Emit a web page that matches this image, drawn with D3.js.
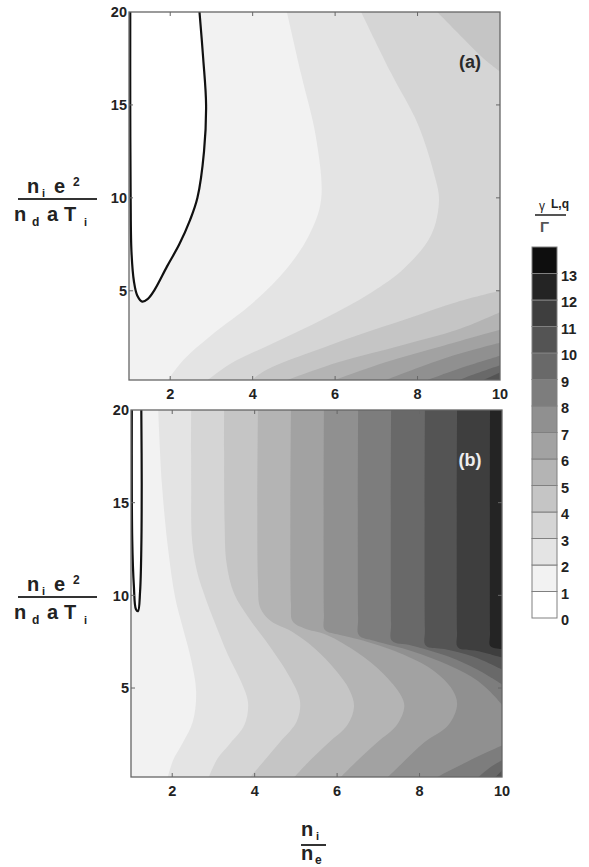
<!DOCTYPE html>
<html>
<head>
<meta charset="utf-8">
<script src="https://cdn.jsdelivr.net/npm/d3@7"></script>
<style>
  body { margin: 0; background: #fff; }
  text { font-family: "Liberation Sans", Arial, sans-serif; font-weight: bold; fill: #222; }
</style>
</head>
<body>
<svg id="chart" width="589" height="867"></svg>
<script>
// ---- values ----
var xTicks = [2, 4, 6, 8, 10]
var yTicks = [5, 10, 15, 20]
var levels = d3.range(0, 14)
// grey of each contour level 0..13 (white -> black)
var grays = [255, 242, 228, 213, 197, 180, 162, 144, 125, 105, 84, 62, 36, 14]

// Boundary pieces [x, y], each listed so that the higher level lies on its left.
// panel (a)
var loopA = [[2.71,20],[2.8,17.5],[2.87,15],[2.82,12.5],[2.66,10.0],[2.48,8.8],[2.22,7.5],[1.92,6.3],[1.62,5.05],[1.45,4.55],[1.32,4.42],[1.2,4.75],[1.12,5.5],[1.06,7.1],[1.04,10],[1.03,15],[1.03,20]]
var a1 = [[4.83,20],[5.17,16.7],[5.54,13.2],[5.66,9.9],[5.37,8.0],[4.83,6.2],[4.03,4.4],[2.99,2.6],[2.33,1.3],[1.88,0]]
var a2 = [[6.63,20],[7.36,16.7],[8.0,14.0],[8.4,11.3],[8.52,9.9],[8.33,8.0],[7.67,6.2],[6.87,4.9],[5.73,3.5],[4.52,2.2],[3.48,1.1],[2.8,0]]
var a3top = [[8.48,20],[9.1,18.6],[9.6,17.5],[10,16.8]]
var a3bot = [[10,5.0],[8.96,4.4],[7.75,3.5],[6.53,2.6],[5.42,1.7],[4.35,0.76],[3.86,0]]
var a4 = [[10,3.85],[8.96,2.9],[7.6,2.06],[6.05,1.14],[4.6,0]]
var a5 = [[10,2.9],[8.65,2.06],[7.2,1.14],[5.75,0]]
var a6 = [[10,2.2],[8.7,1.4],[7.0,0]]
var a7 = [[10,1.5],[9.0,0.8],[8.0,0]]
var a8 = [[10,1.0],[9.3,0.45],[8.8,0]]
var a9 = [[10,0.6],[9.4,0]]

// panel (b)
var loopB = [[1.25,20],[1.26,16],[1.25,12.5],[1.22,10.2],[1.17,9.15],[1.12,9.25],[1.07,10.5],[1.03,13],[1.02,20]]
var b1 = [[1.66,20],[1.75,16],[1.9,12.5],[2.07,9.9],[2.25,8.3],[2.45,6.6],[2.58,4.8],[2.5,3.2],[2.26,2.06],[2.02,1.1],[1.87,0]]
var b2 = [[2.46,20],[2.46,16],[2.48,13],[2.6,11.3],[2.8,9.9],[3.02,8.6],[3.35,6.8],[3.68,5.3],[3.84,4.2],[3.75,3.0],[3.4,2.0],[3.1,1.2],[2.85,0]]
var b3 = [[3.26,20],[3.27,14],[3.32,11.7],[3.5,10.1],[3.85,8.8],[4.35,7.3],[4.85,5.6],[5.1,4.3],[5.02,3.2],[4.62,2.1],[4.2,1.0],[3.82,0]]
var b4 = [[4.08,20],[4.08,10.8],[4.14,9.3],[4.4,8.6],[4.9,8.05],[5.45,7.15],[5.95,6.0],[6.3,4.9],[6.41,4.0],[6.25,3.0],[5.8,2.06],[5.3,1.0],[4.88,0]]
var b5 = [[4.88,20],[4.88,9.6],[4.92,8.6],[5.2,8.22],[5.75,7.86],[6.5,6.9],[7.11,5.8],[7.55,4.6],[7.63,4.0],[7.45,3.0],[6.97,2.06],[6.45,1.0],[6.0,0]]
var b6 = [[5.68,20],[5.68,9.0],[5.7,8.15],[6.0,7.9],[6.56,7.6],[7.5,6.9],[8.3,6.0],[8.8,4.9],[8.91,4.1],[8.7,3.0],[8.11,2.06],[7.6,1.0],[7.14,0]]
var b7 = [[6.51,20],[6.51,8.8],[6.53,7.85],[6.9,7.55],[7.8,7.0],[8.74,6.2],[9.4,5.4],[9.8,4.6],[10,4.1]]
var b8 = [[7.31,20],[7.31,8.5],[7.33,7.55],[7.8,7.3],[8.7,6.7],[9.4,6.0],[10,5.2]]
var b9 = [[8.13,20],[8.13,8.2],[8.15,7.3],[8.6,7.1],[9.3,6.7],[10,6.0]]
var b10 = [[8.91,20],[8.91,8.0],[8.93,7.2],[9.4,7.0],[10,6.65]]
var b11 = [[9.71,20],[9.71,8.0],[9.72,7.25],[10,7.1]]
var b7low = [[10,1.9],[9.5,1.4],[9.0,0.85],[8.6,0.4],[8.28,0]]
var b8low = [[10,1.1],[9.7,0.7],[9.33,0]]
var b9low = [[10,0.55],[9.75,0]]

// level painted beyond each piece
var piecesA = [[loopA,1],[a1,2],[a2,3],[a3top,4],[a3bot,4],[a4,5],[a5,6],[a6,7],[a7,8],[a8,9],[a9,10]]
var piecesB = [[loopB,1],[b1,2],[b2,3],[b3,4],[b4,5],[b5,6],[b6,7],[b7,8],[b7low,8],[b8,9],[b8low,9],[b9,10],[b9low,10],[b10,11],[b11,12]]

var svg = d3.select("#chart")
var grey = function(k) { return d3.rgb(grays[k], grays[k], grays[k]).toString() }

var panels = [
    { id: "a", left: 129, right: 500, top: 12, bottom: 380, pieces: piecesA, loop: loopA, tag: "(a)", tagFill: "#2a2a2a" },
    { id: "b", left: 131, right: 502, top: 410, bottom: 777, pieces: piecesB, loop: loopB, tag: "(b)", tagFill: "#eeeeee" }
]

// frame used to close the boundary pieces into polygons (counter-clockwise)
var corners = [[1,0],[10,0],[10,20],[1,20]]
function edgeT(p) {
    var d = [Math.abs(p[1] - 0), Math.abs(p[0] - 10), Math.abs(p[1] - 20), Math.abs(p[0] - 1)]
    var m = d3.minIndex(d)
    if (m === 0) return (p[0] - 1) / 9
    if (m === 1) return 1 + p[1] / 20
    if (m === 2) return 2 + (10 - p[0]) / 9
    return 3 + (20 - p[1]) / 20
}

panels.forEach(function(P) {
    var x = d3.scaleLinear().domain([1, 10]).range([P.left, P.right])
    var y = d3.scaleLinear().domain([0.2, 20]).range([P.bottom, P.top])
    var line = d3.line().x(d => x(d[0])).y(d => y(d[1])).curve(d3.curveCatmullRom.alpha(0.5))

    svg.append("clipPath").attr("id", "clip-" + P.id)
        .append("rect")
        .attr("x", P.left).attr("y", P.top)
        .attr("width", P.right - P.left).attr("height", P.bottom - P.top)

    var g = svg.append("g").attr("clip-path", "url(#clip-" + P.id + ")")

    g.append("rect")
        .attr("x", P.left).attr("y", P.top)
        .attr("width", P.right - P.left).attr("height", P.bottom - P.top)
        .attr("fill", grey(0))

    g.selectAll("path.band")
        .data(P.pieces)
        .enter()
        .append("path")
        .attr("class", "band")
        .attr("fill", d => grey(d[1]))
        .attr("d", function(d) {
            var pts = d[0]
            var te = edgeT(pts[pts.length - 1]), ts = edgeT(pts[0])
            var end = ts <= te ? ts + 4 : ts
            var s = line(pts)
            for (var c = Math.floor(te) + 1; c < end; c++) {
                var k = corners[c % 4]
                s += "L" + x(k[0]) + "," + y(k[1])
            }
            return s + "Z"
        })

    // the thick zero contour
    g.append("path")
        .attr("d", line(P.loop))
        .attr("fill", "none")
        .attr("stroke", "#111")
        .attr("stroke-width", 2.2)

    // frame + inward ticks on all four sides
    svg.append("rect")
        .attr("x", P.left).attr("y", P.top)
        .attr("width", P.right - P.left).attr("height", P.bottom - P.top)
        .attr("fill", "none").attr("stroke", "#666").attr("stroke-width", 1.3)

    var tk = svg.append("g").attr("stroke", "#666").attr("stroke-width", 1)
    xTicks.filter(v => v < 10).forEach(function(v) {
        tk.append("line").attr("x1", x(v)).attr("x2", x(v)).attr("y1", P.bottom).attr("y2", P.bottom - 4)
        tk.append("line").attr("x1", x(v)).attr("x2", x(v)).attr("y1", P.top).attr("y2", P.top + 4)
    })
    yTicks.filter(v => v < 20).forEach(function(v) {
        tk.append("line").attr("y1", y(v)).attr("y2", y(v)).attr("x1", P.left).attr("x2", P.left + 4)
        tk.append("line").attr("y1", y(v)).attr("y2", y(v)).attr("x1", P.right).attr("x2", P.right - 4)
    })

    svg.selectAll("text.xt-" + P.id)
        .data(xTicks).enter().append("text")
        .attr("class", "xt-" + P.id)
        .attr("x", d => x(d)).attr("y", P.bottom + 19)
        .attr("text-anchor", "middle").attr("font-size", 14.5)
        .text(d => d)

    svg.selectAll("text.yt-" + P.id)
        .data(yTicks).enter().append("text")
        .attr("class", "yt-" + P.id)
        .attr("x", P.left - 2).attr("y", d => y(d)).attr("dy", "0.36em")
        .attr("text-anchor", "end").attr("font-size", 14.5)
        .text(d => d)

    svg.append("text")
        .attr("x", 470).attr("y", P.top + 56)
        .attr("text-anchor", "middle").attr("font-size", 18)
        .style("fill", P.tagFill)
        .text(P.tag)

    // y-axis label  n_i e^2 / (n_d a T_i)
    var oy = P.top + 187
    var lab = svg.append("g").attr("transform", "translate(0," + oy + ")")
    lab.append("line").attr("x1", 18).attr("x2", 97).attr("y1", 0).attr("y2", 0)
        .attr("stroke", "#333").attr("stroke-width", 2)
    var num = lab.append("text").attr("y", -6).attr("font-size", 20)
    num.append("tspan").attr("x", 27).text("n")
    num.append("tspan").attr("x", 42).attr("dy", 4).attr("font-size", 11).text("i")
    num.append("tspan").attr("x", 54).attr("dy", -4).text("e")
    num.append("tspan").attr("x", 73).attr("dy", -7).attr("font-size", 12).text("2")
    var den = lab.append("text").attr("y", 22).attr("font-size", 20)
    den.append("tspan").attr("x", 14).text("n")
    den.append("tspan").attr("x", 32).attr("dy", 5).attr("font-size", 12).text("d")
    den.append("tspan").attr("x", 47).attr("dy", -5).text("a")
    den.append("tspan").attr("x", 64).text("T")
    den.append("tspan").attr("x", 84).attr("dy", 5).attr("font-size", 11).text("i")
})

// x-axis label  n_i / n_e
var xl = svg.append("g")
xl.append("line").attr("x1", 301).attr("x2", 326).attr("y1", 845).attr("y2", 845)
    .attr("stroke", "#333").attr("stroke-width", 2)
var xn = xl.append("text").attr("y", 836).attr("font-size", 20)
xn.append("tspan").attr("x", 301).text("n")
xn.append("tspan").attr("x", 316).attr("dy", 4).attr("font-size", 11).text("i")
var xd = xl.append("text").attr("y", 860).attr("font-size", 20)
xd.append("tspan").attr("x", 301).text("n")
xd.append("tspan").attr("x", 315).attr("dy", 4).attr("font-size", 12).text("e")

// colour legend
var yBar = d3.scaleLinear().domain([0, 14]).range([618, 247])
var legend = svg.append("g")
legend.selectAll("rect")
    .data(levels).enter().append("rect")
    .attr("x", 532).attr("width", 25)
    .attr("y", d => yBar(d + 1))
    .attr("height", d => yBar(d) - yBar(d + 1))
    .attr("fill", d => grey(d))
    .attr("stroke", "#808080").attr("stroke-width", 1)
legend.selectAll("text")
    .data(levels).enter().append("text")
    .attr("x", 561).attr("y", d => yBar(d) + 2).attr("dy", "0.36em")
    .attr("font-size", 14.5)
    .text(d => d)

// legend title  gamma_{L,q} / Gamma
var lt = svg.append("g")
lt.append("line").attr("x1", 535).attr("x2", 566).attr("y1", 215).attr("y2", 215)
    .attr("stroke", "#555").attr("stroke-width", 2)
lt.append("text").attr("x", 539).attr("y", 210).attr("font-size", 12).style("font-weight", "normal").text("γ")
lt.append("text").attr("x", 551).attr("y", 208).attr("font-size", 12).text("L,q")
lt.append("text").attr("x", 540).attr("y", 232).attr("font-size", 15).style("fill", "#555").text("Γ")
</script>
</body>
</html>
